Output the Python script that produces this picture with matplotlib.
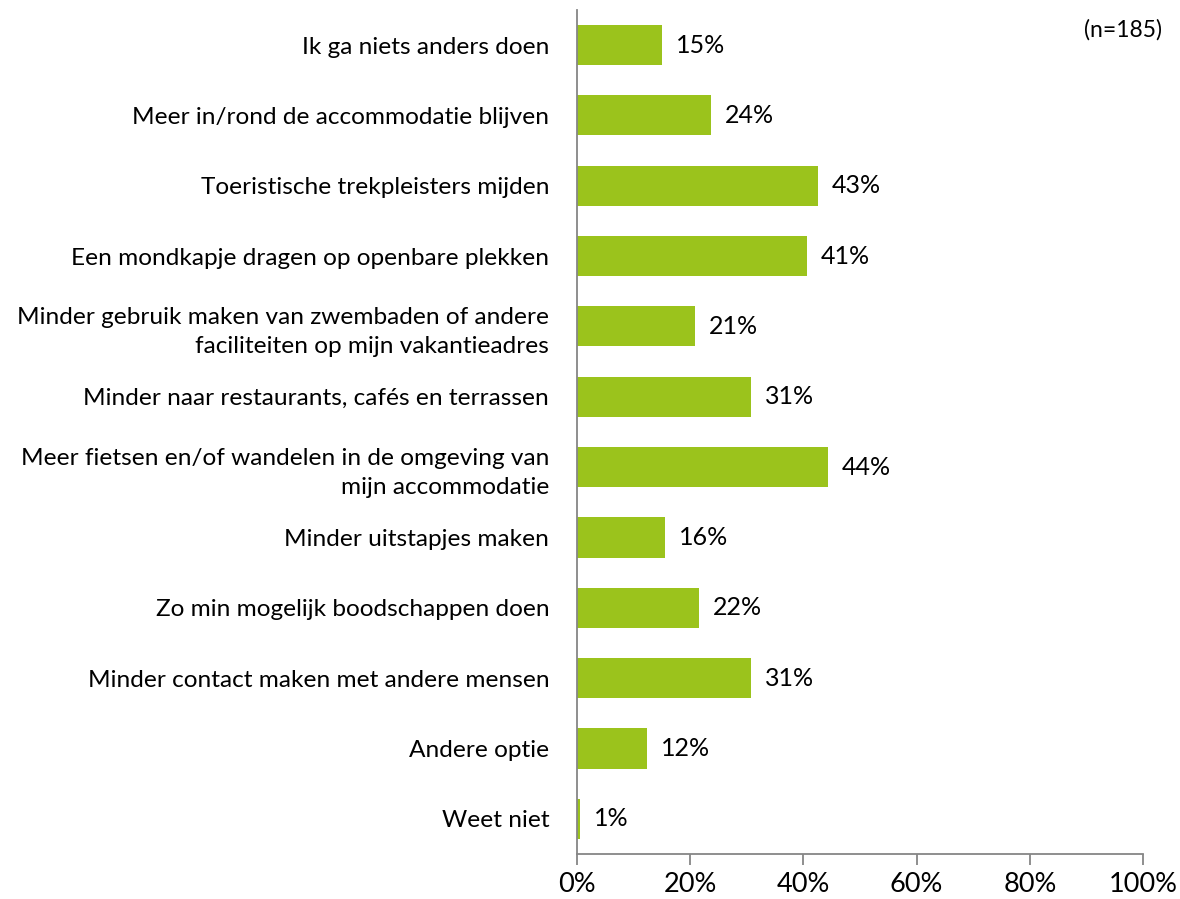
import matplotlib.pyplot as plt
from matplotlib.ticker import FuncFormatter

plt.rcParams['font.family'] = ['Lato', 'DejaVu Sans']

# Data (percentages, top to bottom)
categories = [
    'Ik ga niets anders doen',
    'Meer in/rond de accommodatie blijven',
    'Toeristische trekpleisters mijden',
    'Een mondkapje dragen op openbare plekken',
    'Minder gebruik maken van zwembaden of andere\nfaciliteiten op mijn vakantieadres',
    'Minder naar restaurants, cafés en terrassen',
    'Meer fietsen en/of wandelen in de omgeving van\nmijn accommodatie',
    'Minder uitstapjes maken',
    'Zo min mogelijk boodschappen doen',
    'Minder contact maken met andere mensen',
    'Andere optie',
    'Weet niet',
]
values = [15.0, 23.7, 42.6, 40.6, 20.8, 30.7, 44.3, 15.6, 21.6, 30.7, 12.4, 0.6]
xticks = [0, 20, 40, 60, 80, 100]

bar_color = '#9BC31C'
axis_color = '#868686'

fig = plt.figure(figsize=(11.8, 8.99), dpi=100)
ax = fig.add_axes([0.489, 0.050, 0.4797, 0.939])

y = list(range(len(categories)))
ax.barh(y, values, height=0.57, color=bar_color)
ax.set_ylim(len(categories) - 0.5, -0.5)
ax.set_xlim(0, 100)

for yi, v in zip(y, values):
    ax.annotate(f'{v:.0f}%', (v, yi), xytext=(10, 0), textcoords='offset points',
                va='center', ha='left', fontsize=18, color='black')

ax.set_yticks(y)
ax.set_yticklabels(categories, fontsize=17.6, linespacing=1.45)
ax.tick_params(axis='y', length=0, pad=20)
ax.set_xticks(xticks)
ax.xaxis.set_major_formatter(FuncFormatter(lambda v, p: f'{v:.0f}%'))
ax.tick_params(axis='x', length=8, width=1.3, color=axis_color, labelsize=19.5, pad=5)

for s in ['top', 'right']:
    ax.spines[s].set_visible(False)
for s in ['left', 'bottom']:
    ax.spines[s].set_color(axis_color)
    ax.spines[s].set_linewidth(1.3)

fig.text(1162 / 1180, 1 - 30 / 899, '(n=185)', ha='right', va='center', fontsize=16.5)

fig.savefig('out.png', dpi=100)
